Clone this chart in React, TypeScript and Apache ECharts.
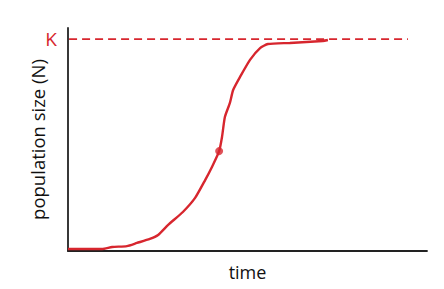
import React, { useEffect, useRef } from "react";
import * as echarts from "echarts";

const K = 95;
const curveTime = [0, 9.5, 12.3, 16.4, 19.2, 22.8, 25.1, 27.9, 32.0, 35.4, 38.2, 40.1, 42.1, 42.9, 43.7, 45.1, 46.0, 47.9, 50.7, 53.5, 55.7, 61.8, 71.0, 72.4];
const curveN = [0.9, 0.9, 1.8, 2.2, 3.6, 5.4, 7.2, 11.7, 17.5, 23.8, 31.8, 37.7, 44.8, 51.1, 60.1, 66.4, 72.2, 78.0, 85.7, 91.0, 92.8, 93.3, 94.2, 94.6];
const inflection = [42.1, 44.8];
const kLineTime = [0.3, 94.7];

const RED = "#d7262e";

export default function App() {
  const ref = useRef<HTMLDivElement>(null);
  useEffect(() => {
    if (!ref.current) return;
    const chart = echarts.init(ref.current, null, { renderer: "svg" });
    chart.setOption({
      animation: false,
      backgroundColor: "#ffffff",
      grid: { left: 68, right: 17, top: 28, bottom: 38 },
      xAxis: {
        type: "value",
        min: 0,
        max: 100,
        name: "time",
        nameLocation: "middle",
        nameGap: 12,
        nameTextStyle: { color: "#111", fontSize: 18, fontFamily: "Open Sans" },
        axisLine: { lineStyle: { color: "#222", width: 1.8 } },
        axisTick: { show: false },
        axisLabel: { show: false },
        splitLine: { show: false },
      },
      yAxis: {
        type: "value",
        min: 0,
        max: 100,
        name: "population size (N)",
        nameLocation: "middle",
        nameGap: 21,
        nameMoveOverlap: false,
        nameTextStyle: { color: "#111", fontSize: 18.5, fontFamily: "Open Sans" },
        axisLine: { show: true, lineStyle: { color: "#222", width: 1.8 } },
        axisTick: { show: false },
        axisLabel: {
          customValues: [K],
          formatter: () => "K",
          color: RED,
          fontSize: 19,
          fontFamily: "Open Sans",
          margin: 11,
        },
        splitLine: { show: false },
      },
      series: [
        {
          type: "line",
          data: kLineTime.map((t) => [t, K]),
          symbol: "none",
          lineStyle: { color: RED, width: 1.8, type: [8, 5] },
          silent: true,
        },
        {
          type: "line",
          data: curveTime.map((t, i) => [t, curveN[i]]),
          symbol: "none",
          smooth: 0.2,
          lineStyle: { color: RED, width: 2.4 },
          silent: true,
        },
        {
          type: "scatter",
          data: [inflection],
          symbolSize: 8,
          itemStyle: { color: RED },
          silent: true,
        },
      ],
    });
    return () => chart.dispose();
  }, []);
  return <div ref={ref} style={{ width: 444, height: 289, position: "fixed", left: 0, top: 0 }} />;
}
